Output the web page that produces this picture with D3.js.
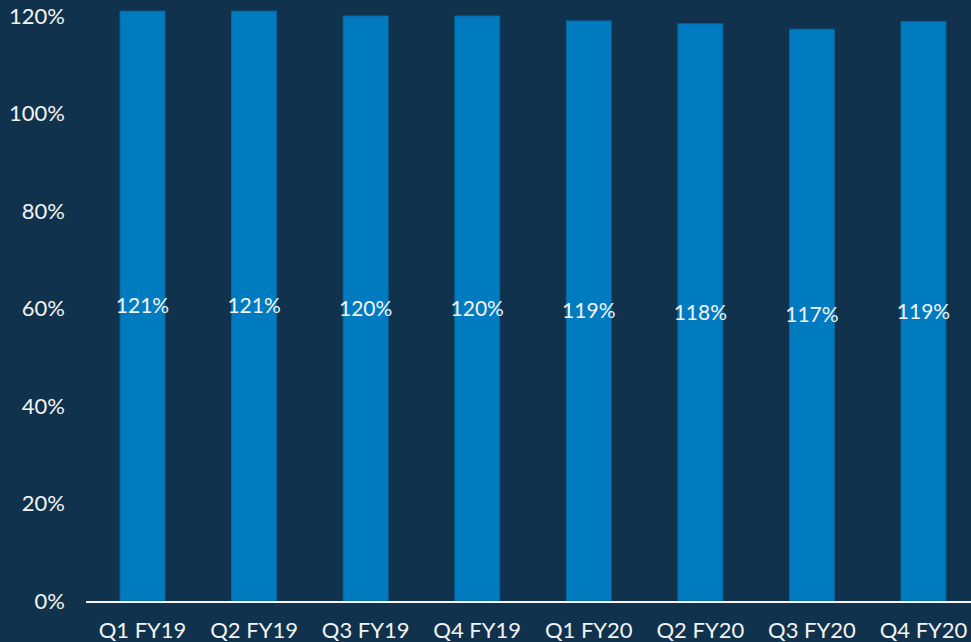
<!DOCTYPE html>
<html>
<head>
<meta charset="utf-8">
<script src="https://cdn.jsdelivr.net/npm/d3@7"></script>
<style>
html,body{margin:0;padding:0;background:#11324c;}
svg{display:block;}
text{font-family:Lato,"Open Sans",sans-serif;font-weight:400;fill:#f2f4f6;}
</style>
</head>
<body>
<svg id="chart" width="971" height="642"></svg>
<script>
const categories = ["Q1 FY19","Q2 FY19","Q3 FY19","Q4 FY19","Q1 FY20","Q2 FY20","Q3 FY20","Q4 FY20"];
const values = [121, 121, 120, 120, 119, 118.4, 117.3, 118.9];
const yTicks = [0, 20, 40, 60, 80, 100, 120];

const W = 971, H = 642;
const svg = d3.select("#chart");
svg.append("rect").attr("width", W).attr("height", H).attr("fill", "#11324c");

const y = d3.scaleLinear().domain([0, 120]).range([601, 16]);
const x = d3.scaleBand().domain(categories).range([86, 980]).paddingInner(0.597).paddingOuter(0.305);

// y tick labels
svg.append("g").selectAll("text").data(yTicks).join("text")
  .attr("x", 65).attr("y", d => y(d)).attr("dy", "0.35em")
  .attr("text-anchor", "end").attr("font-size", 22)
  .text(d => d + "%");

// bars
svg.append("g").selectAll("rect").data(values).join("rect")
  .attr("x", (d, i) => x(categories[i]))
  .attr("y", d => y(d))
  .attr("width", x.bandwidth())
  .attr("height", d => y(0) - y(d))
  .attr("fill", "#007bc0")
  .attr("stroke", "#0a679f").attr("stroke-width", 1);

// value labels
svg.append("g").selectAll("text").data(values).join("text")
  .attr("x", (d, i) => x(categories[i]) + x.bandwidth() / 2)
  .attr("y", d => (y(d) + y(0)) / 2).attr("dy", "0.35em")
  .attr("text-anchor", "middle").attr("font-size", 21)
  .text(d => Math.round(d) + "%");

// x axis line
svg.append("line").attr("x1", 86).attr("x2", W).attr("y1", 602).attr("y2", 602)
  .attr("stroke", "#f2f4f6").attr("stroke-width", 2);

// x labels
svg.append("g").selectAll("text").data(categories).join("text")
  .attr("x", d => x(d) + x.bandwidth() / 2)
  .attr("y", 638)
  .attr("text-anchor", "middle").attr("font-size", 22)
  .text(d => d);
</script>
</body>
</html>
